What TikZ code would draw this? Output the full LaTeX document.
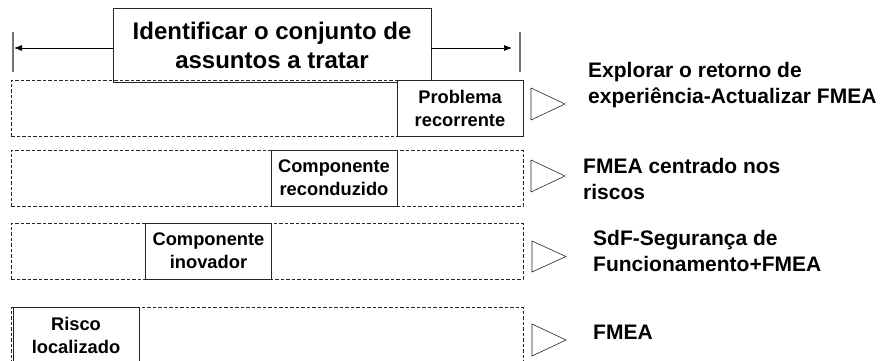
\documentclass[tikz,border=0pt]{standalone}
\usepackage{fontspec}
\setmainfont{Liberation Sans}
\usetikzlibrary{arrows.meta}

\begin{document}
\begin{tikzpicture}[x=1pt, y=-1pt,
  rowbox/.style={draw=black!85, dash pattern=on 3.5pt off 2pt, line width=0.6pt,
                 minimum width=512pt, minimum height=56pt, inner sep=0pt},
  labelbox/.style={draw=black!85, fill=white, line width=0.8pt, align=center,
                   minimum width=126pt, minimum height=56pt, inner sep=0pt,
                   font=\fontsize{18.3}{23}\selectfont\bfseries},
  outtext/.style={anchor=west, align=left, inner sep=0pt,
                  font=\fontsize{21}{26}\selectfont\bfseries},
  tri/.style={draw=black!85, line width=0.6pt}]
\useasboundingbox (0,0) rectangle (883,360);
\begin{scope}[]

  % scope of the issues
  \node[draw=black!85, line width=0.8pt, align=center, minimum width=318pt,
        minimum height=74pt, inner sep=0pt, font=\fontsize{24}{29}\selectfont\bfseries]
        (ident) at (272,45) {Identificar o conjunto de\\assuntos a tratar};
  \draw[black!55, line width=1.2pt] (13,32) -- (13,72);
  \draw[black!55, line width=1.2pt] (520,32) -- (520,72);
  \coordinate (endL) at (14,48);
  \coordinate (endR) at (512,48);
  \draw[-{Latex[length=8pt,width=6pt]}, line width=0.7pt] (ident.west |- endL) -- (endL);
  \draw[-{Latex[length=8pt,width=6pt]}, line width=0.7pt] (ident.east |- endR) -- (endR);

  % rows
  \node[rowbox] (row1) at (267,108) {};
  \node[rowbox] (row2) at (267,178) {};
  \node[rowbox] (row3) at (267,251) {};
  \node[rowbox] (row4) at (267,335) {};

  % labels
  \node[labelbox] (prob)  at (460,108) {Problema\\recorrente};
  \node[labelbox] (recon) at (334,178) {Componente\\reconduzido};
  \node[labelbox] (inov)  at (208.5,251) {Componente\\inovador};
  \node[labelbox] (risco) at (76,335) {Risco\\localizado};

  % triangles
  \coordinate (tri1) at (531,104);
  \coordinate (tri2) at (531,176);
  \coordinate (tri3) at (532,256.5);
  \coordinate (tri4) at (532,340);
  \draw[tri] (tri1) ++(0,-16) -- ++(34,16) -- ++(-34,16) -- cycle;
  \draw[tri] (tri2) ++(0,-16) -- ++(34,16) -- ++(-34,16) -- cycle;
  \draw[tri] (tri3) ++(0,-15.5) -- ++(34,15.5) -- ++(-34,15.5) -- cycle;
  \draw[tri] (tri4) ++(0,-16) -- ++(34,16) -- ++(-34,16) -- cycle;

  % methods
  \node[outtext] (out1) at (588,85) {Explorar o retorno de\\experiência-Actualizar FMEA};
  \node[outtext] (out2) at (583,179) {FMEA centrado nos\\riscos};
  \node[outtext] (out3) at (593,251) {SdF-Segurança de\\Funcionamento+FMEA};
  \node[outtext] (out4) at (593,332) {FMEA};
\end{scope}
\end{tikzpicture}
\end{document}
